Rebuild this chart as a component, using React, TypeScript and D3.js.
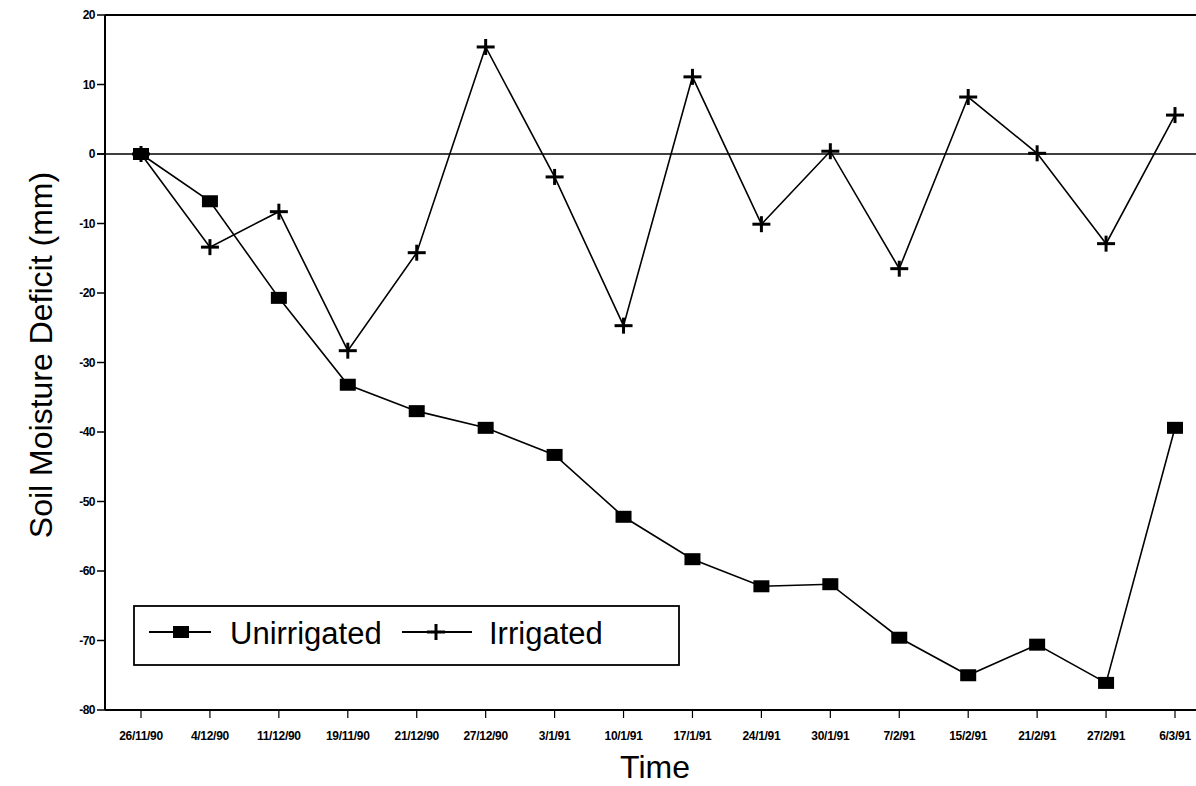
import React from "react";
import * as d3 from "d3";

const dates = [
  "26/11/90", "4/12/90", "11/12/90", "19/11/90", "21/12/90", "27/12/90",
  "3/1/91", "10/1/91", "17/1/91", "24/1/91", "30/1/91", "7/2/91",
  "15/2/91", "21/2/91", "27/2/91", "6/3/91",
];
const unirrigated = [0, -6.8, -20.7, -33.2, -37.0, -39.4, -43.3, -52.2, -58.3, -62.2, -61.9, -69.6, -75.0, -70.6, -76.1, -39.4];
const irrigated = [0, -13.4, -8.3, -28.3, -14.2, 15.4, -3.3, -24.7, 11.1, -10.1, 0.4, -16.5, 8.2, 0.1, -12.9, 5.6];
const yTicks = [20, 10, 0, -10, -20, -30, -40, -50, -60, -70, -80];
const seriesNames = ["Unirrigated", "Irrigated"];

const W = 1196;
const H = 786;
const left = 105;
const top = 15;
const bottom = 710;
const right = 1212;
const font = "'Liberation Sans', Arial, Helvetica, sans-serif";

export default function App() {
  const x = d3.scalePoint<string>().domain(dates).range([141, 1175]);
  const y = d3.scaleLinear().domain([-80, 20]).range([bottom, top]);
  const line = d3
    .line<number>()
    .x((_, i) => x(dates[i]) as number)
    .y((d) => y(d));

  const Square = ({ cx, cy }: { cx: number; cy: number }) => (
    <rect x={cx - 8} y={cy - 6} width={16} height={12} fill="#000" />
  );
  const Plus = ({ cx, cy }: { cx: number; cy: number }) => (
    <g stroke="#000" strokeWidth={3}>
      <line x1={cx - 9} x2={cx + 9} y1={cy} y2={cy} />
      <line x1={cx} x2={cx} y1={cy - 8} y2={cy + 8} />
    </g>
  );

  return (
    <svg
      width={W}
      height={H}
      style={{ position: "absolute", left: 0, top: 0, background: "#fff" }}
    >
      <rect x={0} y={0} width={W} height={H} fill="#fff" />
      {/* frame */}
      <g stroke="#000" fill="none">
        <line x1={left} x2={left} y1={top} y2={bottom} strokeWidth={2} />
        <line x1={left} x2={right} y1={bottom} y2={bottom} strokeWidth={2} />
        <line x1={left} x2={right} y1={top} y2={top} strokeWidth={2} />
        <line x1={left - 8} x2={right} y1={y(0)} y2={y(0)} strokeWidth={1.3} />
      </g>
      {/* y ticks */}
      {yTicks.map((t) => (
        <g key={t}>
          <line x1={left - 8} x2={left} y1={y(t)} y2={y(t)} stroke="#000" strokeWidth={1.5} />
          <text
            x={left - 10}
            y={y(t)}
            dy="0.35em"
            textAnchor="end"
            fontFamily={font}
            fontSize={12}
            fontWeight="bold"
            letterSpacing={-0.5}
          >
            {t}
          </text>
        </g>
      ))}
      {/* x ticks */}
      {dates.map((d) => (
        <g key={d}>
          <line x1={x(d)} x2={x(d)} y1={bottom} y2={bottom + 8} stroke="#000" strokeWidth={1.2} />
          <text
            x={x(d)}
            y={bottom + 30}
            textAnchor="middle"
            fontFamily={font}
            fontSize={12}
            fontWeight="bold"
            letterSpacing={-0.3}
          >
            {d}
          </text>
        </g>
      ))}
      {/* series */}
      <path d={line(unirrigated) || ""} fill="none" stroke="#000" strokeWidth={1.6} />
      <path d={line(irrigated) || ""} fill="none" stroke="#000" strokeWidth={1.6} />
      {unirrigated.map((v, i) => (
        <Square key={"u" + i} cx={x(dates[i]) as number} cy={y(v)} />
      ))}
      {irrigated.map((v, i) => (
        <Plus key={"i" + i} cx={x(dates[i]) as number} cy={y(v)} />
      ))}
      {/* legend */}
      <rect x={134} y={606} width={545} height={59} fill="#fff" stroke="#000" strokeWidth={1.8} />
      <line x1={149} x2={211} y1={632} y2={632} stroke="#000" strokeWidth={2} />
      <Square cx={181} cy={632} />
      <text x={230} y={644} fontFamily={font} fontSize={31}>
        {seriesNames[0]}
      </text>
      <line x1={402} x2={472} y1={632} y2={632} stroke="#000" strokeWidth={2} />
      <Plus cx={436} cy={632} />
      <text x={489} y={644} fontFamily={font} fontSize={31}>
        {seriesNames[1]}
      </text>
      {/* axis titles */}
      <text
        x={655}
        y={778}
        textAnchor="middle"
        fontFamily={font}
        fontSize={32}
      >
        Time
      </text>
      <text
        transform={`translate(52, 355) rotate(-90)`}
        textAnchor="middle"
        fontFamily={font}
        fontSize={32}
      >
        Soil Moisture Deficit (mm)
      </text>
    </svg>
  );
}
